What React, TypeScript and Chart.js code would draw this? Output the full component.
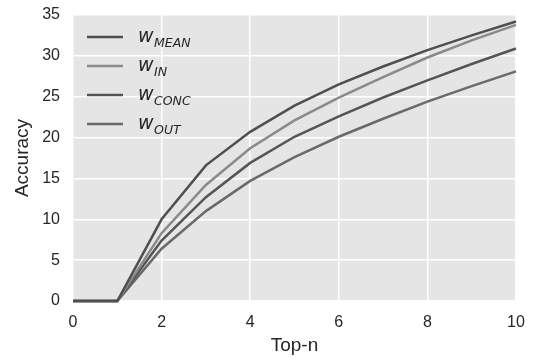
import React, { useEffect, useRef } from "react";
import { Chart, registerables } from "chart.js";

Chart.register(...registerables);

const topN = [0, 1, 2, 3, 4, 5, 6, 7, 8, 9, 10];
const wMean = [0, 0, 10.0, 16.6, 20.7, 23.9, 26.5, 28.7, 30.7, 32.5, 34.2];
const wIn = [0, 0, 8.3, 14.2, 18.7, 22.1, 24.9, 27.4, 29.8, 31.9, 33.8];
const wConc = [0, 0, 7.4, 12.7, 16.9, 20.1, 22.6, 24.9, 27.0, 29.0, 30.9];
const wOut = [0, 0, 6.4, 11.0, 14.7, 17.6, 20.1, 22.3, 24.4, 26.3, 28.1];

const legendMain = ["w", "w", "w", "w"];
const legendSub = ["MEAN", "IN", "CONC", "OUT"];
const seriesColors = ["#4f4f4f", "#8a8a8a", "#555555", "#6a6a6a"];
const seriesValues = [wMean, wIn, wConc, wOut];

const textColor = "#262626";
const tickFont = { family: "'Liberation Sans', Arial, sans-serif", size: 16 };
const titleFont = { family: "'Liberation Sans', Arial, sans-serif", size: 19 };

const bgPlugin = {
  id: "bgPlugin",
  beforeDraw(chart: any) {
    const { ctx, chartArea } = chart;
    ctx.save();
    ctx.fillStyle = "#e5e5e5";
    ctx.fillRect(chartArea.left, chartArea.top, chartArea.right - chartArea.left, chartArea.bottom - chartArea.top);
    ctx.restore();
  },
};

const legendPlugin = {
  id: "mathLegend",
  afterDraw(chart: any) {
    const { ctx, chartArea } = chart;
    ctx.save();
    const x0 = chartArea.left + 14;
    const y0 = chartArea.top + 22;
    const rowH = 29;
    legendSub.forEach((sub, i) => {
      const y = y0 + i * rowH;
      ctx.strokeStyle = seriesColors[i];
      ctx.lineWidth = 2.5;
      ctx.beginPath();
      ctx.moveTo(x0, y);
      ctx.lineTo(x0 + 36, y);
      ctx.stroke();
      ctx.fillStyle = textColor;
      ctx.textAlign = "left";
      ctx.textBaseline = "alphabetic";
      ctx.font = "italic 19px 'DejaVu Sans'";
      const tx = x0 + 51;
      ctx.fillText(legendMain[i], tx, y + 5);
      const w = ctx.measureText(legendMain[i]).width;
      ctx.font = "italic 12.5px 'DejaVu Sans'";
      ctx.fillText(sub, tx + w + 0.5, y + 9.5);
    });
    ctx.restore();
  },
};

function zeroPad(scale: any) {
  scale.paddingTop = 0;
  scale.paddingBottom = 0;
  scale.paddingLeft = 0;
  scale.paddingRight = 0;
}

export default function App() {
  const ref = useRef<HTMLCanvasElement>(null);
  useEffect(() => {
    document.body.style.margin = "0";
    const canvas = ref.current!;
    const chart = new Chart(canvas, {
      type: "line",
      data: {
        labels: topN,
        datasets: seriesValues.map((vals, i) => ({
          label: legendMain[i] + legendSub[i],
          data: vals.map((v, j) => ({ x: topN[j], y: v })),
          borderColor: seriesColors[i],
          backgroundColor: seriesColors[i],
          borderWidth: 2.5,
          pointRadius: 0,
          tension: 0,
          fill: false,
          clip: false as any,
        })),
      },
      options: {
        responsive: false,
        animation: false,
        devicePixelRatio: 1,
        layout: { padding: { top: 15, right: 18, left: 0, bottom: 0 } },
        plugins: { legend: { display: false }, tooltip: { enabled: false } },
        scales: {
          x: {
            type: "linear",
            min: 0,
            max: 10,
            ticks: { stepSize: 2, font: tickFont, color: textColor, padding: 12 },
            grid: { color: "#ffffff", lineWidth: 1.5, drawTicks: false },
            border: { display: false },
            title: { display: true, text: "Top-n", font: titleFont, color: textColor, padding: { top: 0, bottom: 2 } },
            afterFit(scale: any) {
              scale.height = 58;
              zeroPad(scale);
            },
          },
          y: {
            min: 0,
            max: 35,
            ticks: { stepSize: 5, font: tickFont, color: textColor, padding: 13 },
            grid: { color: "#ffffff", lineWidth: 1.5, drawTicks: false },
            border: { display: false },
            title: { display: true, text: "Accuracy", font: titleFont, color: textColor, padding: { top: 11, bottom: 0 } },
            afterFit(scale: any) {
              scale.width = 73;
              zeroPad(scale);
            },
          },
        },
      },
      plugins: [bgPlugin, legendPlugin],
    });
    return () => chart.destroy();
  }, []);
  return (
    <div style={{ position: "absolute", left: 0, top: 0, width: 534, height: 359 }}>
      <canvas ref={ref} width={534} height={359} style={{ display: "block" }} />
    </div>
  );
}
